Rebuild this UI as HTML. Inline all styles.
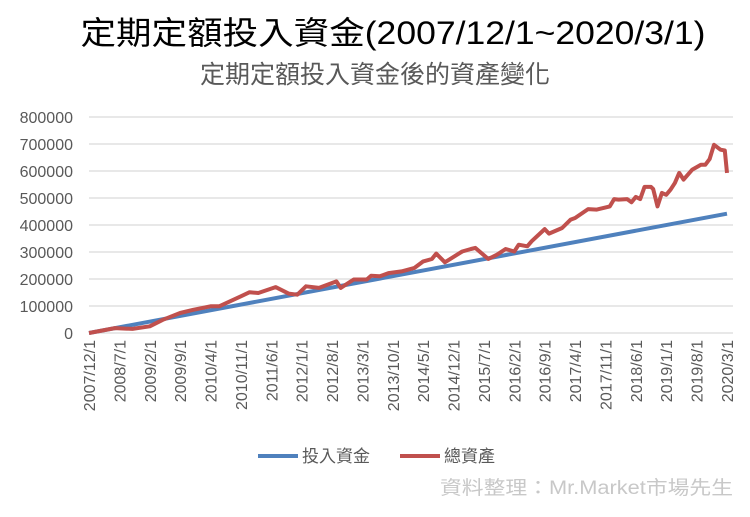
<!DOCTYPE html>
<html><head><meta charset="utf-8"><style>
body{margin:0;background:#fff;width:750px;height:512px;overflow:hidden;font-family:"Liberation Sans","Noto Sans CJK TC",sans-serif}
</style></head><body>
<svg id="s" width="750" height="512" xmlns="http://www.w3.org/2000/svg" font-family="'Liberation Sans','Noto Sans CJK TC',sans-serif">
<text x="393" y="44" font-size="32" text-anchor="middle" fill="#000" textLength="625" lengthAdjust="spacingAndGlyphs">定期定額投入資金(2007/12/1~2020/3/1)</text>
<text x="375" y="83" font-size="25" text-anchor="middle" fill="#595959">定期定額投入資金後的資產變化</text>
<g id="g"></g>
<line x1="258" y1="456" x2="298" y2="456" stroke="#4f81bd" stroke-width="4"/>
<text x="302" y="462" font-size="17" fill="#595959">投入資金</text>
<line x1="400" y1="456" x2="440" y2="456" stroke="#c0504d" stroke-width="4"/>
<text x="444" y="462" font-size="17" fill="#595959">總資產</text>
<text x="733" y="494" font-size="19" text-anchor="end" fill="#c8c8c8" textLength="293" lengthAdjust="spacingAndGlyphs">資料整理：Mr.Market市場先生</text>
</svg>
<script>
var g=document.getElementById('g'),h='';
function X(m){return 89+m*4.34}function Y(v){return 333-v*0.27}
for(var i=0;i<=8;i++){var y=Y(i*100);h+='<line x1="89" x2="733" y1="'+y+'" y2="'+y+'" stroke="#d9d9d9" stroke-width="1.3"/>';
h+='<text x="73" y="'+(y+6)+'" font-size="16" text-anchor="end" fill="#595959">'+(i*100000)+'</text>';}
for(var k=0;k<=21;k++){var m=k*7,yr=2007,mo=12+m;yr+=Math.floor((mo-1)/12);mo=(mo-1)%12+1;var x=X(m)+6;
h+='<text transform="translate('+x+',340) rotate(-90)" font-size="16" text-anchor="end" fill="#595959">'+yr+'/'+mo+'/1</text>';}
h+='<polyline fill="none" stroke="#4f81bd" stroke-width="4" points="'+X(0)+','+Y(0)+' '+X(147)+','+Y(442)+'"/>';
var r=[[0,0],[6,18],[10,15],[14,25],[17,49],[21,74],[24,86],[28,99],[30,99],[35,136],[37,151],[39,148],[43,170],[46,146],[48,142],[50,173],[53,167],[57,191],[58,167],[61,198],[64,198],[65,212],[67,210],[69,222],[72,228],[75,241],[77,265],[79,274],[80,294],[82,262],[86,302],[88,311],[89,315],[92,274],[94,290],[96,311],[98,302],[99,327],[101,321],[102,340],[104,370],[105,385],[106,368],[109,389],[111,420],[112,426],[115,459],[117,457],[120,469],[121,496],[122,494],[124,496],[125,484],[126,504],[127,496],[128,541],[129.5,541],[130,533],[131,469],[132,519],[133,512],[134,531],[135,556],[136,593],[137,568],[139,605],[141,623],[142,623],[143,644],[144,697],[145.5,679],[146.5,676],[147,593]];
h+='<polyline fill="none" stroke="#c0504d" stroke-width="4" stroke-linejoin="round" points="'+r.map(function(p){return X(p[0]).toFixed(1)+','+Y(p[1]).toFixed(1)}).join(' ')+'"/>';
g.innerHTML=h;
</script>
</body></html>
